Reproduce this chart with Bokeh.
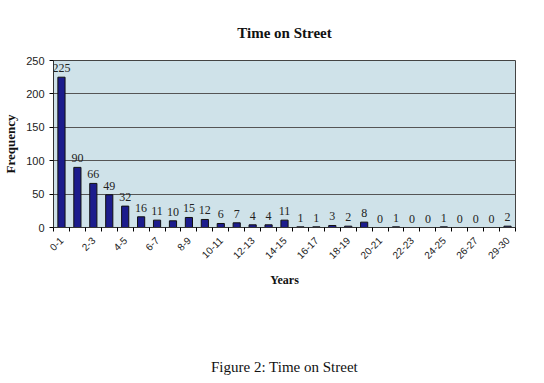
import math
from bokeh.plotting import figure
from bokeh.models import ColumnDataSource, LabelSet, Title, FixedTicker, Range1d
from bokeh.core.properties import value
from bokeh.embed import file_html
from bokeh.resources import INLINE

categories = ["0-1", "1-2", "2-3", "3-4", "4-5", "5-6", "6-7", "7-8", "8-9", "9-10",
              "10-11", "11-12", "12-13", "13-14", "14-15", "15-16", "16-17", "17-18",
              "18-19", "19-20", "20-21", "21-22", "22-23", "23-24", "24-25", "25-26",
              "26-27", "27-28", "29-30"]
frequency = [225, 90, 66, 49, 32, 16, 11, 10, 15, 12, 6, 7, 4, 4, 11, 1, 1, 3, 2, 8,
             0, 1, 0, 0, 1, 0, 0, 0, 2]
y_ticks = [0, 50, 100, 150, 200, 250]
title_text = "Time on Street"
x_title = "Years"
y_title = "Frequency"
caption_text = "Figure 2: Time on Street"

xs = list(range(len(categories)))
src = ColumnDataSource(dict(x=xs, y=frequency, label=[str(v) for v in frequency]))

p = figure(width=544, height=383, output_backend="svg", toolbar_location=None,
           x_range=Range1d(-0.5, len(categories) - 0.5), y_range=Range1d(0, 250),
           min_border_left=52, min_border_right=29, min_border_top=60, min_border_bottom=156)
p.background_fill_color = "#cfe2e9"
p.border_fill_color = "white"
p.outline_line_color = "#444444"

p.title.text = title_text
p.title.align = "center"
p.title.text_font = "Liberation Serif"
p.title.text_font_style = "bold"
p.title.text_font_size = "15px"
p.title.text_color = "#111111"
p.title.standoff = 40

p.vbar(x="x", top="y", width=0.45, source=src, fill_color="#1c1c8c", line_color="#111111", line_width=1)

# x axis
p.xaxis.ticker = FixedTicker(ticks=xs[::2], minor_ticks=[i - 0.5 for i in range(len(categories) + 1)])
p.xaxis.major_label_overrides = {i: categories[i] for i in xs}
p.xaxis.major_label_orientation = math.pi / 4
p.xaxis.major_tick_in = 0
p.xaxis.major_tick_out = 0
p.xaxis.minor_tick_in = 0
p.xaxis.minor_tick_out = 4
p.xaxis.major_label_standoff = 7
p.xaxis.major_label_text_font = "Liberation Sans"
p.xaxis.major_label_text_font_size = "10px"
p.xaxis.major_label_text_color = "#222222"
p.xaxis.axis_label = x_title
p.xaxis.axis_label_text_font = "Liberation Serif"
p.xaxis.axis_label_text_font_style = "bold"
p.xaxis.axis_label_text_font_size = "12px"
p.xaxis.axis_label_text_color = "#111111"
p.xaxis.axis_label_standoff = 8
p.xaxis.axis_line_color = "#333333"

# y axis
p.yaxis.ticker = FixedTicker(ticks=y_ticks)
p.yaxis.major_tick_in = 0
p.yaxis.major_tick_out = 4
p.yaxis.minor_tick_out = 0
p.yaxis.minor_tick_in = 0
p.yaxis.major_label_standoff = 5
p.yaxis.major_label_text_font = "Liberation Sans"
p.yaxis.major_label_text_font_size = "11px"
p.yaxis.major_label_text_color = "#222222"
p.yaxis.axis_label = y_title
p.yaxis.axis_label_text_font = "Liberation Serif"
p.yaxis.axis_label_text_font_style = "bold"
p.yaxis.axis_label_text_font_size = "13px"
p.yaxis.axis_label_text_color = "#111111"
p.yaxis.axis_label_standoff = 5
p.yaxis.axis_line_color = "#333333"

p.xgrid.visible = False
p.ygrid.ticker = FixedTicker(ticks=y_ticks)
p.ygrid.grid_line_color = "#555555"
p.ygrid.grid_line_width = 1

labels = LabelSet(x="x", y="y", text="label", source=src, y_offset=5,
                  text_align="center", text_baseline="bottom",
                  text_font=value("Liberation Serif"), text_font_size="12px", text_color="#222222")
p.add_layout(labels)

spacer = Title(text=" ", text_font_size="15px", standoff=45)
p.add_layout(spacer, "below")
caption = Title(text=caption_text, align="center",
                text_font="Liberation Serif",
                text_font_style="normal", text_font_size="15px", text_color="#111111",
                standoff=4)
p.add_layout(caption, "below")

out = file_html(p, INLINE)
open("out.html", "w").write(out)
